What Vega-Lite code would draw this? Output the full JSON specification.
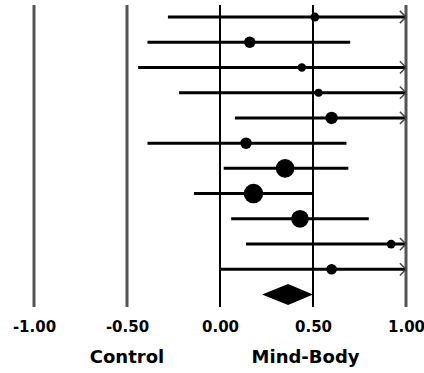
{
  "$schema": "https://vega.github.io/schema/vega-lite/v6.json",
  "width": 372,
  "height": 302,
  "autosize": "none",
  "padding": {"left": 34, "top": 5, "right": 18, "bottom": 66},
  "config": {"view": {"stroke": null}},
  "datasets": {
    "studies": [
      {"row": 1, "est": 0.51, "lower": -0.28, "upper": 1.0, "truncated": true, "weight": 4.2},
      {"row": 2, "est": 0.16, "lower": -0.39, "upper": 0.70, "truncated": false, "weight": 7.1},
      {"row": 3, "est": 0.44, "lower": -0.44, "upper": 1.0, "truncated": true, "weight": 3.8},
      {"row": 4, "est": 0.53, "lower": -0.22, "upper": 1.0, "truncated": true, "weight": 3.4},
      {"row": 5, "est": 0.60, "lower": 0.08, "upper": 1.0, "truncated": true, "weight": 8.3},
      {"row": 6, "est": 0.14, "lower": -0.39, "upper": 0.68, "truncated": false, "weight": 7.1},
      {"row": 7, "est": 0.35, "lower": 0.02, "upper": 0.69, "truncated": false, "weight": 18.6},
      {"row": 8, "est": 0.18, "lower": -0.14, "upper": 0.50, "truncated": false, "weight": 20.4},
      {"row": 9, "est": 0.43, "lower": 0.06, "upper": 0.80, "truncated": false, "weight": 16.8},
      {"row": 10, "est": 0.92, "lower": 0.14, "upper": 1.0, "truncated": true, "weight": 4.2},
      {"row": 11, "est": 0.60, "lower": 0.00, "upper": 1.0, "truncated": true, "weight": 6.1}
    ],
    "diamond": [
      {"x": 0.226, "top": 12, "bottom": 12},
      {"x": 0.366, "top": 11.58, "bottom": 12.42},
      {"x": 0.50, "top": 12, "bottom": 12}
    ],
    "refs": [
      {"v": -1.0}, {"v": -0.5}, {"v": 0.0}, {"v": 0.5}, {"v": 1.0}
    ],
    "sides": [
      {"label": "Control", "x": -0.5, "row": 14.71},
      {"label": "Mind-Body", "x": 0.46, "row": 14.71}
    ]
  },
  "layer": [
    {
      "data": {"name": "refs"},
      "mark": {"type": "rule"},
      "encoding": {
        "x": {
          "field": "v", "type": "quantitative",
          "scale": {"domain": [-1, 1], "nice": false, "zero": false},
          "axis": {
            "values": [-1, -0.5, 0, 0.5, 1],
            "labelExpr": "replace(format(datum.value, '.2f'), '\u2212', '-')",
            "domain": false, "ticks": false, "grid": false,
            "labelFlush": false, "labelOverlap": false, "labelBound": false,
            "labelFont": "DejaVu Sans", "labelFontWeight": "bold",
            "labelFontSize": 15, "labelColor": "#000000", "labelPadding": 12,
            "title": null
          }
        },
        "color": {
          "condition": {"test": "datum.v == 0 || datum.v == 0.5", "value": "#000000"},
          "value": "#555555"
        },
        "strokeWidth": {
          "condition": {"test": "datum.v == 0 || datum.v == 0.5", "value": 2},
          "value": 3
        }
      }
    },
    {
      "data": {"name": "studies"},
      "mark": {"type": "rule", "color": "#000000", "strokeWidth": 3},
      "encoding": {
        "x": {"field": "lower", "type": "quantitative"},
        "x2": {"field": "upper"},
        "y": {
          "field": "row", "type": "quantitative",
          "scale": {"domain": [0.524, 12.495], "reverse": true, "nice": false, "zero": false},
          "axis": null
        }
      }
    },
    {
      "data": {"name": "studies"},
      "transform": [{"filter": "datum.truncated"}],
      "mark": {"type": "point", "shape": "M-1,-1L0,0L-1,1", "filled": false, "stroke": "#444444", "strokeWidth": 1.5, "size": 150, "opacity": 1},
      "encoding": {
        "x": {"datum": 1},
        "y": {"field": "row", "type": "quantitative"}
      }
    },
    {
      "data": {"name": "studies"},
      "mark": {"type": "circle", "color": "#000000", "opacity": 1},
      "encoding": {
        "x": {"field": "est", "type": "quantitative"},
        "y": {"field": "row", "type": "quantitative"},
        "size": {"field": "weight", "type": "quantitative", "scale": {"domain": [0, 20], "range": [0, 373]}, "legend": null}
      }
    },
    {
      "data": {"name": "diamond"},
      "mark": {"type": "area", "color": "#000000", "orient": "vertical"},
      "encoding": {
        "x": {"field": "x", "type": "quantitative"},
        "y": {"field": "top", "type": "quantitative"},
        "y2": {"field": "bottom"}
      }
    },
    {
      "data": {"name": "sides"},
      "mark": {"type": "text", "font": "DejaVu Sans", "fontWeight": "bold", "fontSize": 18, "baseline": "alphabetic", "align": "center", "color": "#000000"},
      "encoding": {
        "x": {"field": "x", "type": "quantitative"},
        "y": {"field": "row", "type": "quantitative"},
        "text": {"field": "label"}
      }
    }
  ]
}
